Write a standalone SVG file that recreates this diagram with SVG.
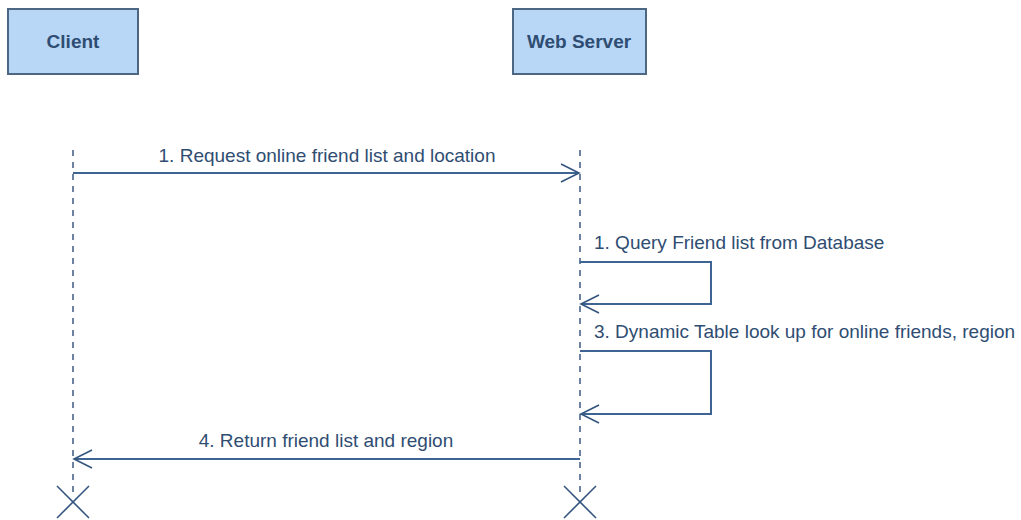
<svg xmlns="http://www.w3.org/2000/svg" width="1021" height="520" viewBox="0 0 1021 520">
  <style>
    .box { fill: #b8d7f7; stroke: #4b6784; stroke-width: 2; }
    .title { font-family: "Liberation Sans", Arial, sans-serif; font-size: 19px; font-weight: bold; fill: #2f4d72; text-anchor: middle; }
    .label { font-family: "Liberation Sans", Arial, sans-serif; font-size: 19px; fill: #2f4d72; }
    .life { stroke: #3c5a80; stroke-width: 1.5; stroke-dasharray: 6 6; fill: none; }
    .msg { stroke: #3e6494; stroke-width: 2; fill: none; }
    .head { stroke: #33557f; stroke-width: 1.6; fill: none; }
    .end { stroke: #33557f; stroke-width: 1.6; }
  </style>
  <rect width="1021" height="520" fill="#ffffff"/>

  <g id="client">
    <rect class="box" x="8" y="9" width="130" height="65"/>
    <text class="title" x="73" y="48">Client</text>
  </g>
  <g id="webserver">
    <rect class="box" x="513" y="9" width="133" height="65"/>
    <text class="title" x="579" y="48">Web Server</text>
  </g>

  <g id="lifelines">
    <line class="life" x1="73" y1="150" x2="73" y2="494"/>
    <line class="life" x1="580" y1="150" x2="580" y2="494"/>
  </g>

  <g id="connectors">
    <!-- 1. client to server -->
    <line class="msg" x1="73" y1="173" x2="579" y2="173"/>
    <polyline class="head" points="561,164 579,173 561,182"/>
    <!-- self call: query -->
    <polyline class="msg" points="580,262 711,262 711,304 581,304"/>
    <polyline class="head" points="599,295 581,304 599,313"/>
    <!-- self call: dynamic table -->
    <polyline class="msg" points="580,351 711,351 711,414 581,414"/>
    <polyline class="head" points="599,405 581,414 599,423"/>
    <!-- 4. server to client -->
    <line class="msg" x1="580" y1="459" x2="74" y2="459"/>
    <polyline class="head" points="92,450 74,459 92,468"/>
  </g>

  <g id="labels">
    <text class="label" x="327" y="162" text-anchor="middle">1. Request online friend list and location</text>
    <text class="label" x="594" y="249">1. Query Friend list from Database</text>
    <text class="label" x="594" y="338">3. Dynamic Table look up for online friends, region</text>
    <text class="label" x="326" y="447" text-anchor="middle">4. Return friend list and region</text>
  </g>

  <g id="destroy">
    <line class="end" x1="57" y1="486" x2="89" y2="518"/>
    <line class="end" x1="89" y1="486" x2="57" y2="518"/>
    <line class="end" x1="564" y1="486" x2="596" y2="518"/>
    <line class="end" x1="596" y1="486" x2="564" y2="518"/>
  </g>
</svg>
